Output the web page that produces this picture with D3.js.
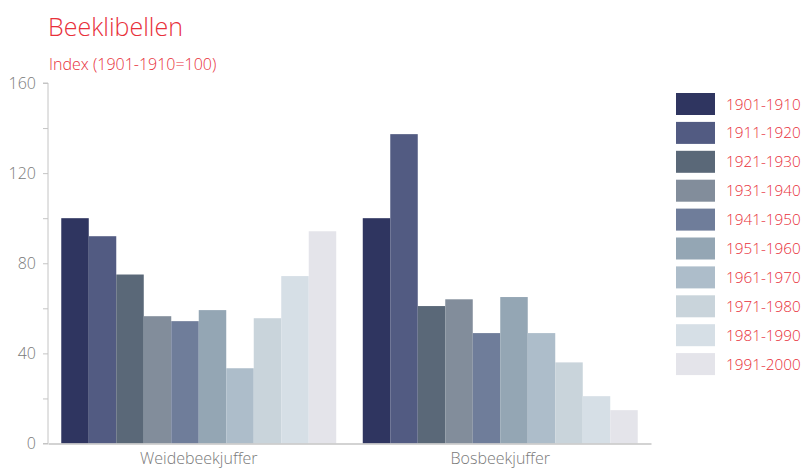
<!DOCTYPE html>
<html>
<head>
<meta charset="utf-8">
<script src="https://cdn.jsdelivr.net/npm/d3@7"></script>
<style>
  html, body { margin: 0; padding: 0; background: #fff; }
  svg { display: block; font-family: "Open Sans", "Noto Sans", sans-serif; }
</style>
</head>
<body>
<svg id="chart" width="804" height="468"></svg>
<script>
// Species on the x axis
const species = ["Weidebeekjuffer", "Bosbeekjuffer"];
// Decades (series)
const decades = ["1901-1910", "1911-1920", "1921-1930", "1931-1940", "1941-1950",
                 "1951-1960", "1961-1970", "1971-1980", "1981-1990", "1991-2000"];
// Index values per decade, one array per species
const weidebeekjuffer = [100, 92, 75, 56.5, 54.3, 59.2, 33.4, 55.6, 74.3, 94.2];
const bosbeekjuffer   = [100, 137.3, 61, 64, 49, 65, 49, 36, 21, 14.8];
const yTicks = [0, 40, 80, 120, 160];
const yMinorTicks = [20, 60, 100, 140];
const colors = ["#2f3560", "#525b82", "#5a6878", "#828d9b", "#6f7d9a",
                "#94a6b4", "#adbdca", "#c9d4db", "#d6dfe6", "#e4e4ea"];

const values = { "Weidebeekjuffer": weidebeekjuffer, "Bosbeekjuffer": bosbeekjuffer };
const red = "#e8303a";
const axisGrey = "#c4c4c4";
const textGrey = "#7a7a7a";

const svg = d3.select("#chart");
const mLeft = 48, mRight = 651, mTop = 83, mBottom = 443.5;

const x0 = d3.scaleBand().domain(species).range([mLeft, mRight])
  .paddingInner(0.088).paddingOuter(0.044);
const x1 = d3.scaleBand().domain(decades).range([0, x0.bandwidth()]);
const y = d3.scaleLinear().domain([0, 160]).range([mBottom, mTop]);
const color = d3.scaleOrdinal().domain(decades).range(colors);

// Title and subtitle
svg.append("text").attr("x", 48).attr("y", 36)
  .attr("fill", red).attr("font-size", 25).attr("font-weight", 300)
  .text("Beeklibellen");
svg.append("text").attr("x", 49).attr("y", 70)
  .attr("fill", red).attr("font-size", 16).attr("font-weight", 300)
  .text("Index (1901-1910=100)");

// Bars
const groups = svg.append("g").selectAll("g").data(species).join("g")
  .attr("transform", d => `translate(${x0(d)},0)`);
groups.selectAll("rect")
  .data(s => decades.map((d, i) => ({ decade: d, value: values[s][i] })))
  .join("rect")
  .attr("x", d => x1(d.decade))
  .attr("width", x1.bandwidth())
  .attr("y", d => y(d.value))
  .attr("height", d => y(0) - y(d.value))
  .attr("fill", d => color(d.decade));

// Y axis with labelled major ticks and unlabelled minor ticks
const yAxis = svg.append("g").attr("transform", `translate(${mLeft},0)`)
  .call(d3.axisLeft(y).tickValues(yTicks).tickSize(5).tickPadding(7).tickFormat(d3.format("d")));
const yMinor = svg.append("g").attr("transform", `translate(${mLeft},0)`)
  .call(d3.axisLeft(y).tickValues(yMinorTicks).tickSize(5).tickFormat(""));
yMinor.select(".domain").remove();
[yAxis, yMinor].forEach(g => {
  g.selectAll("line").attr("stroke", axisGrey);
  g.select(".domain").attr("stroke", axisGrey);
});
yAxis.select(".domain").attr("d", `M-5,${mTop}H0V${mBottom}H-5`);
yAxis.selectAll("text").attr("fill", textGrey).attr("font-size", 16)
  .attr("font-weight", 300).attr("font-family", "'Open Sans', sans-serif");

// X axis
const xAxis = svg.append("g").attr("transform", `translate(0,${mBottom})`)
  .call(d3.axisBottom(x0).tickSize(0).tickPadding(9));
xAxis.select(".domain").attr("stroke", axisGrey).attr("stroke-width", 1.5);
xAxis.selectAll("text").attr("fill", textGrey).attr("font-size", 16)
  .attr("font-weight", 300).attr("font-family", "'Open Sans', sans-serif");

// Legend
const legend = svg.append("g").attr("transform", "translate(676,93)");
const items = legend.selectAll("g").data(decades).join("g")
  .attr("transform", (d, i) => `translate(0,${i * 28.9})`);
items.append("rect").attr("width", 39).attr("height", 22).attr("fill", d => color(d));
items.append("text").attr("x", 50).attr("y", 16.5)
  .attr("fill", red).attr("font-size", 15.3).attr("font-weight", 300)
  .text(d => d);
</script>
</body>
</html>
